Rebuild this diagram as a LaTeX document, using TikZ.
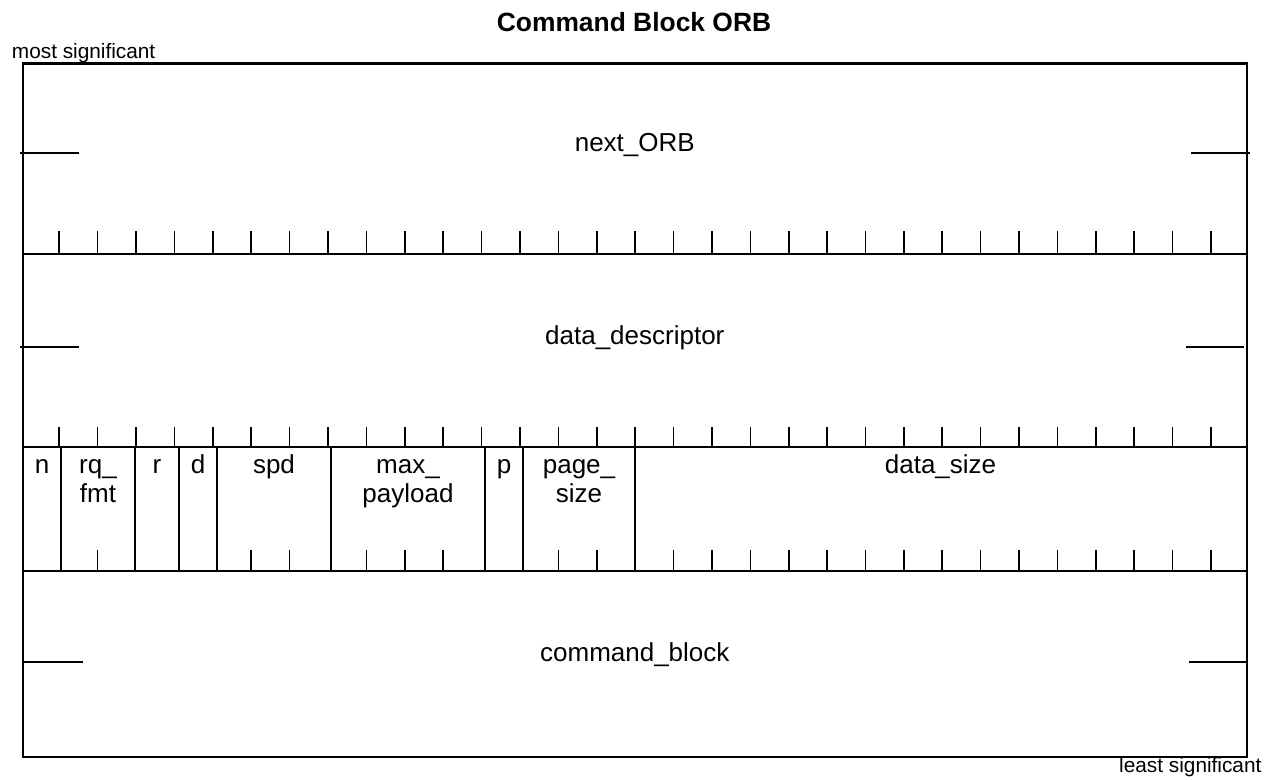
\documentclass[tikz,border=0pt]{standalone}
\usepackage{fontspec}
\setmainfont{Liberation Sans}
\begin{document}
\begin{tikzpicture}[x=0.75pt,y=-0.75pt,
  boxline/.style={line width=1.6pt},
  divline/.style={line width=1.5pt},
  tickline/.style={line width=1.2pt},
  markline/.style={line width=1.3pt},
  field/.style={inner sep=0pt,font=\fontsize{19.5}{21}\selectfont},
  side/.style={inner sep=0pt,font=\fontsize{15.6}{17}\selectfont},
  ttl/.style={inner sep=0pt,font=\fontsize{19.8}{22}\selectfont\bfseries}]
\useasboundingbox (0,0) rectangle (1264,780);
% title and side labels
\node[ttl,anchor=base] (title) at (634,31.7) {Command Block ORB};
\node[side,anchor=base west] (msb) at (11.7,58.3) {most significant};
\node[side,anchor=base east] (lsb) at (1261.7,772.8) {least significant};
% outer box and row separators
\draw[boxline] (23,63.5) rectangle (1246.7,756.7);
\draw[boxline] (23,254.3) -- (1246.7,254.3);
\draw[boxline] (23,446.7) -- (1246.7,446.7);
\draw[boxline] (23,570.7) -- (1246.7,570.7);
% ticks: row 1 bottom and row 2 bottom
\foreach \k in {1,...,31}{
  \draw[tickline] ({20.9+38.39*\k},231.5) -- ({20.9+38.39*\k},254.3);
  \draw[tickline] ({20.9+38.39*\k},427.2) -- ({20.9+38.39*\k},446.7);
}
% ticks: row 3 bottom
\foreach \k in {2,6,7,9,10,11,14,15,17,18,...,31}{
  \draw[tickline] ({20.9+38.39*\k},550) -- ({20.9+38.39*\k},570.7);
}
% field dividers in row 3
\foreach \xx in {61,135,179,217,331,485,523,635}{
  \draw[divline] (\xx,446.7) -- (\xx,570.7);
}
% side marks
\draw[markline] (20,153.3) -- (79,153.3);
\draw[markline] (1191,153.3) -- (1250,153.3);
\draw[markline] (20,346.7) -- (79,346.7);
\draw[markline] (1186,346.7) -- (1244,346.7);
\draw[markline] (23,662.3) -- (82.7,662.3);
\draw[markline] (1189,662.3) -- (1248,662.3);
% field names
\node[field,anchor=base] (nextorb) at (634.8,151.7) {next\_ORB};
\node[field,anchor=base] (datadesc) at (634.8,345) {data\_descriptor};
\node[field,anchor=base] (cmdblock) at (634.8,661.7) {command\_block};
\node[field,anchor=base] (fn) at (42,473.3) {n};
\node[field,anchor=base] (frq1) at (98,473.3) {rq\_};
\node[field,anchor=base] (frq2) at (98,502.3) {fmt};
\node[field,anchor=base] (fr) at (157,473.3) {r};
\node[field,anchor=base] (fd) at (198,473.3) {d};
\node[field,anchor=base] (fspd) at (274,473.3) {spd};
\node[field,anchor=base] (fmax1) at (408,473.3) {max\_};
\node[field,anchor=base] (fmax2) at (408,502.3) {payload};
\node[field,anchor=base] (fp) at (504,473.3) {p};
\node[field,anchor=base] (fpg1) at (579,473.3) {page\_};
\node[field,anchor=base] (fpg2) at (579,502.3) {size};
\node[field,anchor=base] (fdata) at (940.5,473.3) {data\_size};
\end{tikzpicture}
\end{document}
